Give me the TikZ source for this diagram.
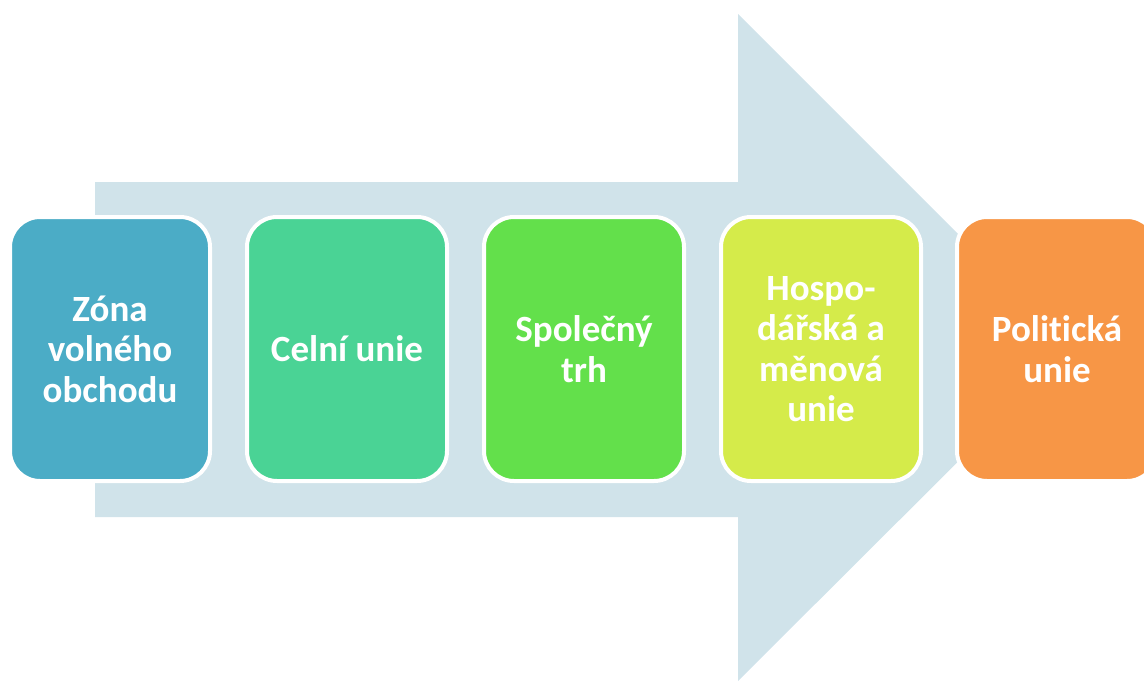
\documentclass[tikz,border=0pt]{standalone}
\usepackage{fontspec}
\setmainfont{Carlito}[Ligatures=NoCommon]
\definecolor{arrowc}{HTML}{D0E3EA}
\definecolor{c1}{HTML}{4BACC6}
\definecolor{c2}{HTML}{4AD395}
\definecolor{c3}{HTML}{63E04B}
\definecolor{c4}{HTML}{D5EB4A}
\definecolor{c5}{HTML}{F79646}
\begin{document}
\begin{tikzpicture}[x=1pt,y=-1pt,
  stage/.style={draw=white,line width=4pt,rounded corners=30pt,minimum width=200pt,minimum height=264pt,
    text=white,align=center,inner sep=0pt,font=\fontsize{37}{40.5}\selectfont\bfseries}]
\useasboundingbox (0,0) rectangle (1144,681);
\fill[arrowc] (95,182) -- (738,182) -- (738,14) -- (1072,348) -- (738,681) -- (738,517) -- (95,517) -- cycle;
\node[stage,fill=c1] (s1) at (110,349) {Zóna\\volného\\obchodu};
\node[stage,fill=c2] (s2) at (347,349) {Celní unie};
\node[stage,fill=c3] (s3) at (584,349) {Společný\\trh};
\node[stage,fill=c4] (s4) at (821,349) {Hospo-\\dářská a\\měnová\\unie};
\node[stage,fill=c5] (s5) at (1057,349) {Politická\\unie};
\end{tikzpicture}
\end{document}
